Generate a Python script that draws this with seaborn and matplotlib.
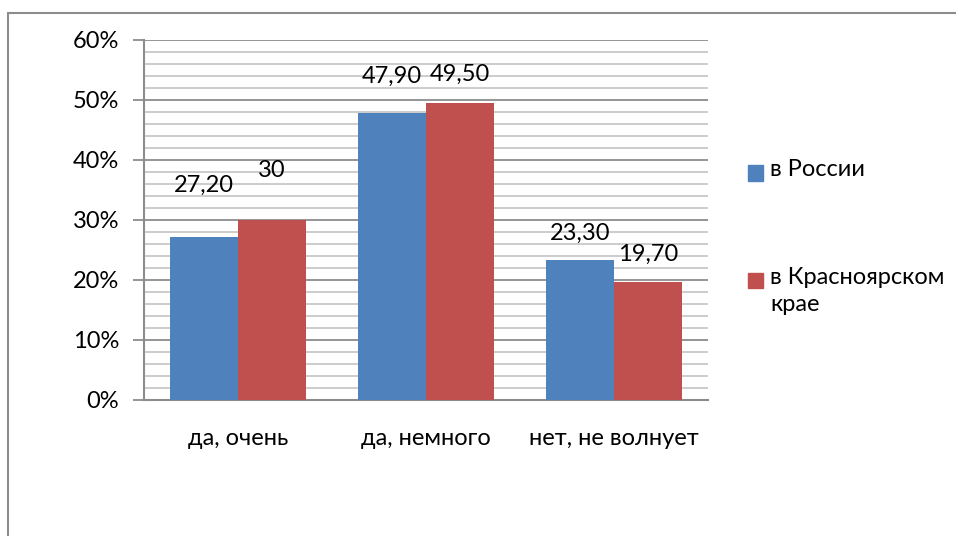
import seaborn as sns
import pandas as pd
import matplotlib.pyplot as plt
from matplotlib.lines import Line2D
from matplotlib.patches import Rectangle
from matplotlib.ticker import MultipleLocator, PercentFormatter

categories = ["да, очень", "да, немного", "нет, не волнует"]
russia = [27.2, 47.9, 23.3]
krasnoyarsk = [30.0, 49.5, 19.7]
series_names = ["в России", "в Красноярском\nкрае"]
russia_labels = ["27,20", "47,90", "23,30"]
krasnoyarsk_labels = ["30", "49,50", "19,70"]
# label heights (data units, %) as they sit in the original chart
russia_label_y = [35.8, 54.0, 27.7]
krasnoyarsk_label_y = [38.2, 54.2, 24.2]

df = pd.DataFrame({
    "cat": categories * 2,
    "series": [series_names[0]] * 3 + [series_names[1]] * 3,
    "value": russia + krasnoyarsk,
})

sns.set_style("white")
plt.rcParams["font.family"] = ["Lato", "DejaVu Sans"]
plt.rcParams["text.color"] = "black"
plt.rcParams["xtick.color"] = "black"
plt.rcParams["ytick.color"] = "black"

FS = 17
W, H = 956, 536
fig = plt.figure(figsize=(W / 100, H / 100), dpi=100)
ax = fig.add_axes([144 / W, 136 / H, 564 / W, 360 / H])

palette = ["#4F81BD", "#C0504D"]
sns.barplot(data=df, x="cat", y="value", hue="series", palette=palette,
            width=0.72, gap=0, saturation=1, ax=ax, legend=False,
            linewidth=0, zorder=3)

ax.set_xlim(-0.5, 2.5)
ax.set_ylim(0, 60)
ax.yaxis.set_major_locator(MultipleLocator(10))
ax.yaxis.set_minor_locator(MultipleLocator(2))
ax.yaxis.set_major_formatter(PercentFormatter(decimals=0))
ax.grid(which="minor", axis="y", color="#c8c8c8", lw=1.3, zorder=0)
ax.grid(which="major", axis="y", color="#8c8c8c", lw=1.3, zorder=1)
ax.set_axisbelow(True)
ax.set_xlabel("")
ax.set_ylabel("")

for s in ["top", "right"]:
    ax.spines[s].set_visible(False)
for s in ["left", "bottom"]:
    ax.spines[s].set_color("#8c8c8c")
    ax.spines[s].set_linewidth(1.5)

ax.tick_params(axis="y", which="major", length=8, width=1.3, color="#8c8c8c",
               labelcolor="black", direction="out", left=True, labelsize=FS, pad=10)
ax.tick_params(axis="y", which="minor", length=0)
ax.tick_params(axis="x", length=0, labelsize=FS, labelcolor="black", pad=20)

n = len(categories)
for i, p in enumerate(ax.patches[:2 * n]):
    cx = p.get_x() + p.get_width() / 2
    if i < n:
        txt, ty = russia_labels[i], russia_label_y[i]
    else:
        txt, ty = krasnoyarsk_labels[i - n], krasnoyarsk_label_y[i - n]
    ax.text(cx, ty, txt, ha="center", va="center", fontsize=FS, zorder=5)

# legend drawn by hand so the square sits on the first line of a two-line label
legend_y = [173, 280]
for color, name, y in zip(palette, series_names, legend_y):
    fig.add_artist(Rectangle((748 / W, 1 - (y + 7.5) / H), 15 / W, 15 / H,
                             transform=fig.transFigure, color=color))
    fig.text(770 / W, 1 - (y - 13.5) / H, name, ha="left", va="top",
             fontsize=FS, linespacing=1.4)

# partial chart border like the original
fig.add_artist(Line2D([8 / W, 8 / W], [0, 1 - 13 / H], transform=fig.transFigure,
                      color="#8c8c8c", lw=1.5))
fig.add_artist(Line2D([8 / W, 1], [1 - 13 / H, 1 - 13 / H], transform=fig.transFigure,
                      color="#8c8c8c", lw=1.5))

fig.savefig("out.png", dpi=100)
